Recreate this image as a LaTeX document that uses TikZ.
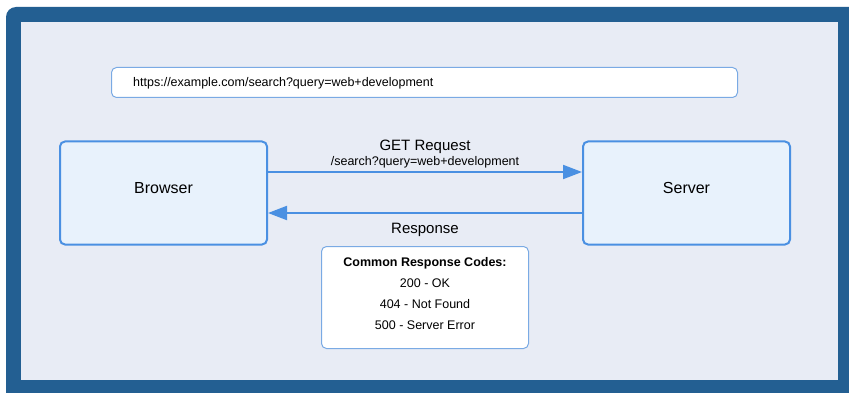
\documentclass[tikz,border=0pt]{standalone}
\usepackage{fontspec}
\setmainfont{Liberation Sans}
\usetikzlibrary{arrows.meta}
\definecolor{framecol}{HTML}{235F92}
\definecolor{innercol}{HTML}{E8ECF5}
\definecolor{boxfill}{HTML}{E8F2FC}
\definecolor{accent}{HTML}{4A90E2}
\definecolor{thinborder}{HTML}{7AAAE4}
\tikzset{
  endpoint/.style={draw=accent, fill=boxfill, line width=2pt, rounded corners=5pt,
    minimum width=207pt, minimum height=103pt, inner sep=0pt, font=\fontsize{16}{19}\selectfont},
  whitebox/.style={draw=thinborder, fill=white, line width=1pt, rounded corners=5pt, inner sep=0pt},
  arr/.style={draw=accent, line width=2pt, -{Triangle[length=19pt,width=14pt]}},
  biglabel/.style={font=\fontsize{15}{18}\selectfont, inner sep=0pt},
  smalllabel/.style={font=\fontsize{12.5}{15}\selectfont, inner sep=0pt}
}
\begin{document}
\begin{tikzpicture}[x=1pt,y=-1pt]
\useasboundingbox (0,0) rectangle (849,393);
\fill[white] (0,0) rectangle (849,393);
\fill[framecol] (6,393) [rounded corners=10pt] -- (6,7) [sharp corners] -- (849,7) -- (849,393) -- cycle;
\fill[innercol] (21,22) rectangle (838,380);
% URL bar
\node[whitebox, minimum width=626pt, minimum height=30pt] (url) at (424.5,82.5) {};
\node[smalllabel, anchor=west] (urltext) at (133,83) {https://example.com/search?query=web+development};
% endpoints
\node[endpoint] (browser) at (163.5,193) {\raisebox{11pt}{Browser}};
\node[endpoint] (server) at (686.5,193) {\raisebox{11pt}{Server}};
% arrows
\draw[arr] ([yshift=21pt]browser.east) -- ([yshift=21pt]server.west);
\draw[arr] ([yshift=-20pt]server.west) -- ([yshift=-20pt]browser.east);
\node[biglabel] (getlbl) at (425,147) {GET Request};
\node[smalllabel] (pathlbl) at (425,162) {/search?query=web+development};
\node[biglabel] (resplbl) at (425,230) {Response};
% codes box
\node[whitebox, minimum width=207pt, minimum height=102pt] (codes) at (425,297.5) {};
\node[smalllabel, align=center, font=\fontsize{12.5}{21}\selectfont] (codestext) at (425,293.5)
  {\textbf{Common Response Codes:}\\200 - OK\\404 - Not Found\\500 - Server Error};
\end{tikzpicture}
\end{document}
